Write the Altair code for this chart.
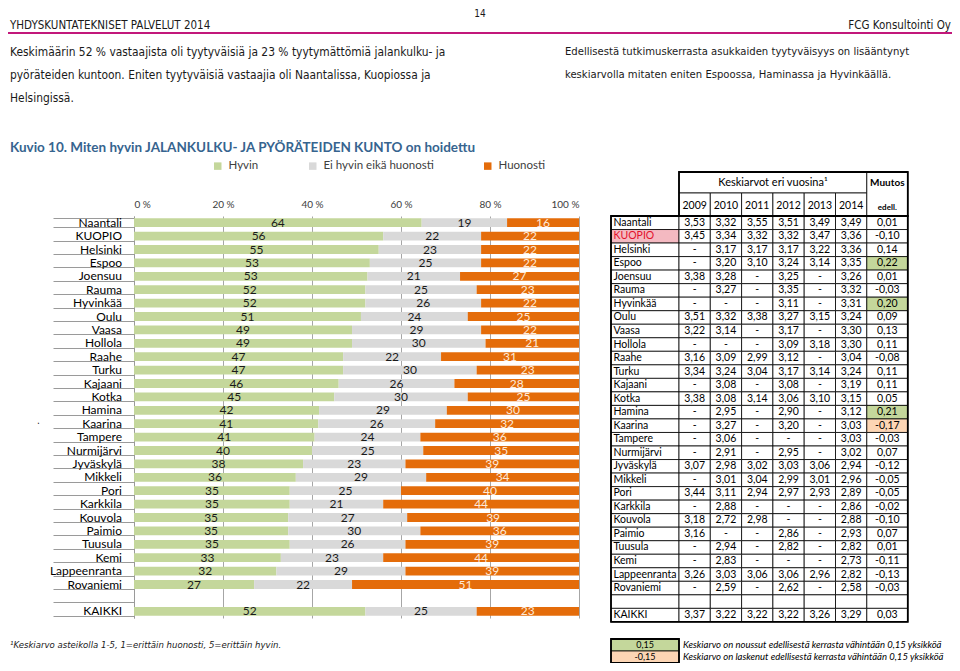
import altair as alt
import pandas as pd

# ---------------- data ----------------
cities = ["Naantali", "KUOPIO", "Helsinki", "Espoo", "Joensuu", "Rauma", "Hyvinkää", "Oulu",
          "Vaasa", "Hollola", "Raahe", "Turku", "Kajaani", "Kotka", "Hamina", "Kaarina",
          "Tampere", "Nurmijärvi", "Jyväskylä", "Mikkeli", "Pori", "Karkkila", "Kouvola",
          "Paimio", "Tuusula", "Kemi", "Lappeenranta", "Rovaniemi", "KAIKKI"]
hyvin = [64, 56, 55, 53, 53, 52, 52, 51, 49, 49, 47, 47, 46, 45, 42, 41, 41, 40, 38, 36,
         35, 35, 35, 35, 35, 33, 32, 27, 52]
ei_hyvin = [19, 22, 23, 25, 21, 25, 26, 24, 29, 30, 22, 30, 26, 30, 29, 26, 24, 25, 23, 29,
            25, 21, 27, 30, 26, 23, 29, 22, 25]
huonosti = [16, 22, 22, 22, 27, 23, 22, 25, 22, 21, 31, 23, 28, 25, 30, 32, 36, 35, 39, 34,
            40, 44, 39, 36, 39, 44, 39, 51, 23]

years = ["2009", "2010", "2011", "2012", "2013", "2014"]
N = None
v2009 = [3.53, 3.45, N, N, 3.38, N, N, 3.51, 3.22, N, 3.16, 3.34, N, 3.38, N, N, N, N,
         3.07, N, 3.44, N, 3.18, 3.16, N, N, 3.26, N, 3.37]
v2010 = [3.32, 3.34, 3.17, 3.20, 3.28, 3.27, N, 3.32, 3.14, N, 3.09, 3.24, 3.08, 3.08, 2.95,
         3.27, 3.06, 2.91, 2.98, 3.01, 3.11, 2.88, 2.72, N, 2.94, 2.83, 3.03, 2.59, 3.22]
v2011 = [3.55, 3.32, 3.17, 3.10, N, N, N, 3.38, N, N, 2.99, 3.04, N, 3.14, N, N, N, N,
         3.02, 3.04, 2.94, N, 2.98, N, N, N, 3.06, N, 3.22]
v2012 = [3.51, 3.32, 3.17, 3.24, 3.25, 3.35, 3.11, 3.27, 3.17, 3.09, 3.12, 3.17, 3.08, 3.06,
         2.90, 3.20, N, 2.95, 3.03, 2.99, 2.97, N, N, 2.86, 2.82, N, 3.06, 2.62, 3.22]
v2013 = [3.49, 3.47, 3.22, 3.14, N, N, N, 3.15, N, 3.18, N, 3.14, N, 3.10, N, N, N, N,
         3.06, 3.01, 2.93, N, N, N, N, N, 2.96, N, 3.26]
v2014 = [3.49, 3.36, 3.36, 3.35, 3.26, 3.32, 3.31, 3.24, 3.30, 3.30, 3.04, 3.24, 3.19, 3.15,
         3.12, 3.03, 3.03, 3.02, 2.94, 2.96, 2.89, 2.86, 2.88, 2.93, 2.82, 2.73, 2.82, 2.58, 3.29]
muutos = [0.01, -0.10, 0.14, 0.22, 0.01, -0.03, 0.20, 0.09, 0.13, 0.11, -0.08, 0.11, 0.11,
          0.05, 0.21, -0.17, -0.03, 0.07, -0.12, -0.05, -0.05, -0.02, -0.10, 0.07, 0.01,
          -0.11, -0.13, -0.03, 0.03]
threshold = 0.15

cats = ["Hyvin", "Ei hyvin eikä huonosti", "Huonosti"]

# ---------------- styles / layout ----------------
bar_colors = ["#C4D79B", "#D9D9D9", "#E46C0A"]
label_colors = ["#1A1A1A", "#1A1A1A", "#FDEADA"]
UP_COLOR = "#C4D79B"
DOWN_COLOR = "#FCD5B4"
NARROW = "Liberation Sans Narrow, DejaVu Sans Condensed, Roboto Condensed, sans-serif"
MAIN = "Lato, Carlito, Calibri, Open Sans, sans-serif"

OX, OY = 134, 216          # page position of the plot origin
PW, PH = 445, 402          # plot size
T_LEFT = 611               # table left edge (page)
NAME_W, YEAR_W, MUUT_W = 68, 31.3, 41
TW = NAME_W + 6 * YEAR_W + MUUT_W
ROW_H = 13.53
NROWS = 30


def row_of(page_y):
    return (page_y - OY) / ROW_H


HDR_TOP, HDR_MID = row_of(172), row_of(193)

# ---------------- bar chart ----------------
rows = []
for i, c in enumerate(cities):
    for k, vals in enumerate([hyvin, ei_hyvin, huonosti]):
        rows.append(dict(city=c, cat=cats[k], order=k, value=vals[i], lc=label_colors[k]))
bar_df = pd.DataFrame(rows)
row_domain = cities[:-1] + [" "] + [cities[-1]]

x_axis = alt.Axis(orient="top", values=[0, 0.2, 0.4, 0.6, 0.8, 1.0],
                  labelExpr="round(datum.value*100) + ' %'", grid=True, gridColor="#A6A6A6",
                  domain=False, ticks=False, labelPadding=7, labelFont=MAIN, labelFontSize=10,
                  labelColor="#404040", title=None)
y_axis = alt.Axis(title=None, tickBand="extent", tickSize=81, tickColor="#9A9A9A",
                  domainColor="#9A9A9A", labels=False)
xs = alt.Scale(domain=[0, 1], nice=False, zero=True)
ys = alt.Scale(domain=row_domain, paddingInner=0.34, paddingOuter=0.17)

base = alt.Chart(bar_df).transform_stack(
    stack="value", groupby=["city"], as_=["v0", "v1"], offset="normalize",
    sort=[alt.SortField("order", order="ascending")]
).transform_calculate(mid="(datum.v0 + datum.v1) / 2")

bars = base.mark_bar().encode(
    x=alt.X("v0:Q", scale=xs, axis=x_axis),
    x2="v1:Q",
    y=alt.Y("city:N", scale=ys, sort=None, axis=y_axis),
    color=alt.Color("cat:N", scale=alt.Scale(domain=cats, range=bar_colors),
                    legend=alt.Legend(orient="none", legendX=78, legendY=-56,
                                      direction="horizontal", title=None,
                                      symbolType="square", symbolSize=56,
                                      symbolStrokeWidth=0, labelFont=MAIN,
                                      labelFontSize=11.5, labelColor="#404040",
                                      columnPadding=48, labelOffset=5)),
)
bar_text = base.mark_text(font=MAIN, fontSize=12, baseline="middle").encode(
    x=alt.X("mid:Q", scale=xs, axis=x_axis),
    y=alt.Y("city:N", scale=ys, sort=None, axis=y_axis),
    text=alt.Text("value:Q"),
    color=alt.Color("lc:N", scale=None),
)
cat_labels = alt.Chart(pd.DataFrame({"city": cities})).mark_text(
    font=MAIN, fontSize=12, align="right", baseline="middle", color="#000000").encode(
    x=alt.value(-12),
    y=alt.Y("city:N", scale=ys, sort=None, axis=y_axis),
    text="city:N",
)
bar_group = alt.layer(bars, bar_text, cat_labels)

# ---------------- table ----------------
def fmt(v):
    return "-" if v is None else f"{v:.2f}".replace(".", ",")


tbl_names = cities[:-1] + [""] + [cities[-1]]
year_vals = [v2009, v2010, v2011, v2012, v2013, v2014]

col_x0 = [0] + [NAME_W + k * YEAR_W for k in range(6)] + [NAME_W + 6 * YEAR_W]
col_x1 = [NAME_W] + [NAME_W + (k + 1) * YEAR_W for k in range(6)] + [TW]

cells, texts_c, texts_l = [], [], []
for r in range(NROWS):
    blank = (r == NROWS - 2)
    di = None if blank else (r if r < NROWS - 2 else len(cities) - 1)
    name = "" if blank else tbl_names[r]
    fill_name = "#F4B9C1" if name == "KUOPIO" else "#FFFFFF"
    cells.append(dict(x0=col_x0[0], x1=col_x1[0], y0=r, y1=r + 1, fill=fill_name))
    texts_l.append(dict(x=2.5, y=r + 0.5, t=name,
                        c="#E3102B" if name == "KUOPIO" else "#000000"))
    for k in range(6):
        cells.append(dict(x0=col_x0[k + 1], x1=col_x1[k + 1], y0=r, y1=r + 1, fill="#FFFFFF"))
        t = "" if blank else fmt(year_vals[k][di])
        texts_c.append(dict(x=(col_x0[k + 1] + col_x1[k + 1]) / 2, y=r + 0.5, t=t, s=10.5,
                            c="#000000"))
    mv = None if blank else muutos[di]
    mf = "#FFFFFF"
    if mv is not None and mv >= threshold - 1e-9:
        mf = UP_COLOR
    elif mv is not None and mv <= -threshold + 1e-9:
        mf = DOWN_COLOR
    cells.append(dict(x0=col_x0[7], x1=col_x1[7], y0=r, y1=r + 1, fill=mf))
    texts_c.append(dict(x=(col_x0[7] + col_x1[7]) / 2, y=r + 0.5,
                        t="" if blank else fmt(mv), s=10.5, c="#000000"))

# header cells
cells.append(dict(x0=col_x0[1], x1=col_x1[6], y0=HDR_TOP, y1=HDR_MID, fill="#FFFFFF"))
for k in range(6):
    cells.append(dict(x0=col_x0[k + 1], x1=col_x1[k + 1], y0=HDR_MID, y1=0, fill="#FFFFFF"))
    texts_c.append(dict(x=(col_x0[k + 1] + col_x1[k + 1]) / 2, y=(HDR_MID + 0) / 2 + 0.1,
                        t=years[k], s=10.5, c="#000000"))
cells.append(dict(x0=col_x0[7], x1=col_x1[7], y0=HDR_TOP, y1=0, fill="#FFFFFF"))
texts_c.append(dict(x=(col_x0[1] + col_x1[6]) / 2, y=(HDR_TOP + HDR_MID) / 2,
                    t="Keskiarvot eri vuosina¹", s=11, c="#000000"))

# legend boxes below the table
LB1, LB2, LB3 = row_of(639), row_of(651), row_of(663)
cells.append(dict(x0=col_x0[0], x1=col_x1[0], y0=LB1, y1=LB2, fill=UP_COLOR))
cells.append(dict(x0=col_x0[0], x1=col_x1[0], y0=LB2, y1=LB3, fill=DOWN_COLOR))
texts_c.append(dict(x=NAME_W / 2, y=(LB1 + LB2) / 2, t=fmt(threshold), s=9, c="#000000"))
texts_c.append(dict(x=NAME_W / 2, y=(LB2 + LB3) / 2, t=fmt(-threshold), s=9, c="#000000"))

outer = [dict(x0=0, x1=TW, y0=0, y1=NROWS), dict(x0=NAME_W, x1=TW, y0=HDR_TOP, y1=0),
         dict(x0=0, x1=NAME_W, y0=LB1, y1=LB3)]

bold_txt = [dict(x=(col_x0[7] + col_x1[7]) / 2, y=(HDR_TOP + HDR_MID) / 2, t="Muutos", s=10),
            dict(x=(col_x0[7] + col_x1[7]) / 2, y=HDR_MID / 2 + 0.25, t="edell.", s=8)]
ital_txt = [dict(x=NAME_W + 4, y=(LB1 + LB2) / 2,
                 t="Keskiarvo on noussut edellisestä kerrasta vähintään 0,15 yksikköä"),
            dict(x=NAME_W + 4, y=(LB2 + LB3) / 2,
                 t="Keskiarvo on laskenut edellisestä kerrasta vähintään 0,15 yksikköä")]

txs = alt.Scale(domain=[0, TW], range=[T_LEFT - OX, T_LEFT - OX + TW], nice=False, zero=False)
tys = alt.Scale(domain=[0, NROWS], range=[0, NROWS * ROW_H], nice=False, zero=False)


def TX(f):
    return alt.X(f, type="quantitative", scale=txs, axis=None)


def TY(f):
    return alt.Y(f, type="quantitative", scale=tys, axis=None)


cell_layer = alt.Chart(pd.DataFrame(cells)).mark_rect(stroke="#000000", strokeWidth=0.8).encode(
    x=TX("x0"), x2="x1", y=TY("y0"), y2="y1", fill=alt.Fill("fill:N", scale=None))
outer_layer = alt.Chart(pd.DataFrame(outer)).mark_rect(
    fillOpacity=0, stroke="#000000", strokeWidth=1.8).encode(
    x=TX("x0"), x2="x1", y=TY("y0"), y2="y1")
txt_c_layer = alt.Chart(pd.DataFrame(texts_c)).mark_text(
    font=MAIN, align="center", baseline="middle").encode(
    x=TX("x"), y=TY("y"), text="t:N", size=alt.Size("s:Q", scale=None),
    color=alt.Color("c:N", scale=None))
txt_l_layer = alt.Chart(pd.DataFrame(texts_l)).mark_text(
    font=MAIN, fontSize=10.5, align="left", baseline="middle").encode(
    x=TX("x"), y=TY("y"), text="t:N", color=alt.Color("c:N", scale=None))
txt_b_layer = alt.Chart(pd.DataFrame(bold_txt)).mark_text(
    font=MAIN, fontWeight="bold", align="center", baseline="middle", color="#000000").encode(
    x=TX("x"), y=TY("y"), text="t:N", size=alt.Size("s:Q", scale=None))
txt_i_layer = alt.Chart(pd.DataFrame(ital_txt)).mark_text(
    font=MAIN, fontStyle="italic", fontSize=9.5, align="left", baseline="middle",
    color="#000000").encode(x=TX("x"), y=TY("y"), text="t:N")

table_group = alt.layer(cell_layer, outer_layer, txt_c_layer, txt_l_layer, txt_b_layer,
                        txt_i_layer)


# ---------------- page annotations ----------------
def ann(text, px, py, size, font=NARROW, align="left", weight="normal", style="normal",
        color="#1A1A1A", baseline="middle"):
    return alt.Chart(alt.Data(values=[{"a": 1}])).mark_text(
        align=align, baseline=baseline, font=font, fontSize=size, fontWeight=weight,
        fontStyle=style, color=color).encode(
        x=alt.value(px - OX), y=alt.value(py - OY), text=alt.value(text))


para_left = ["Keskimäärin  52 % vastaajista oli tyytyväisiä ja 23 % tyytymättömiä jalankulku- ja",
             "pyöräteiden kuntoon. Eniten tyytyväisiä vastaajia oli Naantalissa, Kuopiossa ja",
             "Helsingissä."]
para_right = ["Edellisestä tutkimuskerrasta asukkaiden tyytyväisyys on lisääntynyt",
              "keskiarvolla mitaten eniten Espoossa, Haminassa ja Hyvinkäällä."]

LX = 10
anns = [
    ann("14", 480, 8.5, 10, align="center", baseline="top"),
    ann("YHDYSKUNTATEKNISET PALVELUT 2014", LX, 26, 11.5),
    ann("FCG Konsultointi Oy", 951, 26, 11.5, align="right"),
    alt.Chart(alt.Data(values=[{"a": 1}])).mark_rule(color="#C2187B", strokeWidth=2).encode(
        x=alt.value(8 - OX), x2=alt.value(952 - OX), y=alt.value(33 - OY)),
]
for i, line in enumerate(para_left):
    anns.append(ann(line, LX, 52 + 23 * i, 11.9))
for i, line in enumerate(para_right):
    anns.append(ann(line, 565, 52 + 23 * i, 11.2))
anns.append(ann("Kuvio 10. Miten hyvin JALANKULKU- JA PYÖRÄTEIDEN KUNTO on hoidettu",
                LX, 148, 13.5, font=MAIN, weight="bold", color="#36648F"))
anns.append(ann("¹Keskiarvo asteikolla 1-5, 1=erittäin huonosti, 5=erittäin hyvin.",
                LX, 645, 9.5, style="italic"))
anns.append(ann(".", 37, 421, 10))

chart = alt.layer(bar_group, table_group, *anns).resolve_scale(
    x="independent", y="independent"
).properties(
    width=PW, height=PH,
    padding={"left": OX - 8, "top": OY - 8, "right": 944 - (OX - 8) - PW,
             "bottom": 655 - (OY - 8) - PH},
    autosize=alt.AutoSizeParams(type="none"),
    background="#FFFFFF",
).configure_view(stroke=None)

chart.save("out.html", embed_options={"renderer": "svg", "actions": False})
